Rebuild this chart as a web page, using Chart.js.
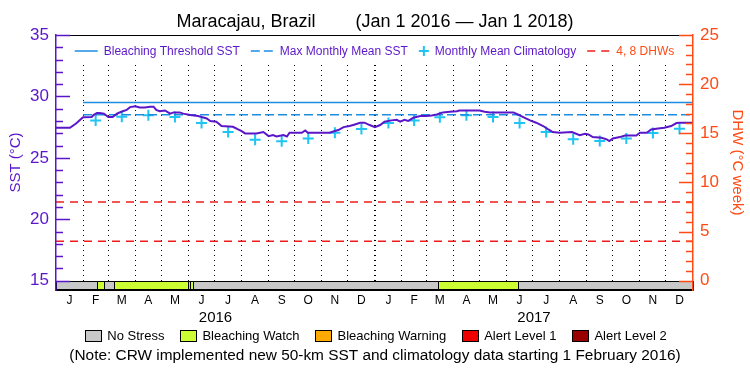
<!DOCTYPE html>
<html>
<head>
<meta charset="utf-8">
<script src="https://cdn.jsdelivr.net/npm/chart.js@4.4.1/dist/chart.umd.min.js"></script>
<style>
    html, body { margin: 0; padding: 0; background: #fff; }
    #wrap { width: 750px; height: 375px; }
</style>
</head>
<body>
<div id="wrap"><canvas id="chart"></canvas></div>
<script>
// 1. DATA (x = days since Jan 1 2016)
const monthStarts = [0, 31, 60, 91, 121, 152, 182, 213, 244, 274, 305, 335, 366, 397, 425, 456, 486, 517, 547, 578, 609, 639, 670, 700, 731];
const monthLetters = ['J', 'F', 'M', 'A', 'M', 'J', 'J', 'A', 'S', 'O', 'N', 'D'];
const yearStarts = [0, 366, 731];
const years = ['2016', '2017'];

const sstDays = [0, 16, 23, 31, 41, 43, 47, 50, 55, 60, 65, 70, 75, 81, 85, 91, 96, 102, 108, 112,
    115, 119, 125, 131, 135, 142, 146, 154, 163, 167, 173, 177, 184, 190, 203, 209, 213, 217, 230, 238,
    244, 249, 253, 261, 265, 268, 282, 286, 289, 314, 320, 324, 330, 337, 343, 349, 354, 360, 366, 372,
    377, 385, 391, 395, 400, 404, 410, 418, 425, 431, 437, 444, 452, 460, 463, 486, 492, 498, 525, 530,
    538, 544, 551, 559, 565, 570, 578, 592, 601, 607, 611, 616, 626, 632, 635, 639, 647, 653, 666, 670,
    678, 683, 691, 698, 706, 712, 716, 731];
const sstValues = [27.45, 27.45, 27.8, 28.3, 28.32, 28.48, 28.65, 28.65, 28.6, 28.32, 28.32, 28.6, 28.75, 28.9, 29.13, 29.2, 29.1, 29.1, 29.16, 29.16,
    28.9, 28.8, 28.86, 28.6, 28.7, 28.7, 28.6, 28.48, 28.4, 28.32, 28.2, 28.0, 27.94, 27.59, 27.53, 27.31, 27.18, 26.99, 26.99, 27.1,
    26.77, 26.86, 26.74, 26.86, 26.74, 27.04, 27.04, 27.23, 27.04, 27.04, 27.18, 27.26, 27.5, 27.59, 27.72, 27.86, 27.86, 27.67, 27.5, 27.67,
    27.94, 28.05, 28.1, 27.94, 28.1, 28.0, 28.26, 28.4, 28.4, 28.45, 28.53, 28.7, 28.75, 28.8, 28.86, 28.86, 28.75, 28.7, 28.7, 28.53,
    28.26, 28.05, 27.86, 27.59, 27.31, 27.1, 27.04, 27.1, 26.85, 26.96, 26.9, 26.69, 26.64, 26.5, 26.37, 26.58, 26.69, 26.82, 26.82, 27.04,
    27.04, 27.31, 27.39, 27.45, 27.59, 27.83, 27.86, 27.86];

// monthly mean climatology, one per month (none shown for Jan 2016)
const climatology = [null, 28.05, 28.35, 28.46, 28.32, 27.83, 27.1, 26.48, 26.35, 26.58, 27.05, 27.35,
    27.83, 28.05, 28.3, 28.47, 28.32, 27.83, 27.1, 26.52, 26.38, 26.58, 27.03, 27.37];

const mmm = 28.5;
const bleachingThreshold = 29.5;
const productStart = 31; // 1 February 2016
const dhwLevels = [4, 8];

const stressStarts = [0, 47, 55, 67, 151, 154, 157, 438, 530];
const stressEnds = [47, 55, 67, 151, 154, 157, 438, 530, 731];
const stressLevels = [0, 1, 0, 1, 0, 1, 0, 1, 0];
const stressLabels = ['No Stress', 'Bleaching Watch', 'Bleaching Warning', 'Alert Level 1', 'Alert Level 2'];
const stressColors = ['#c8c8c8', '#ccff33', '#ffaa00', '#ee0000', '#990000'];

const sstTicks = [15, 20, 25, 30, 35];
const dhwTicks = [0, 5, 10, 15, 20, 25];

// 2. STYLES
const FONT = '"Liberation Sans", Arial, sans-serif';
const purple = '#5a16c8';
const blue = '#1c8de0';
const cyan = '#1ec4f2';
const red = '#f01c1c';
const orange = '#ff4a14';

const midMonths = monthStarts.slice(0, -1).map((s, i) => (s + monthStarts[i + 1]) / 2);
const midYears = years.map((y, i) => (yearStarts[i] + yearStarts[i + 1]) / 2);

// 3. PLUGINS
const topLegend = {
    id: 'topLegend',
    beforeDatasetsDraw(chart) {
        const { ctx, chartArea } = chart;
        const items = chart.data.datasets.filter(d => d.legendText);
        ctx.save();
        ctx.fillStyle = '#fff';
        ctx.fillRect(chartArea.left + 1, chartArea.top + 1, chartArea.width - 2, 26);
        ctx.font = '12px ' + FONT;
        ctx.textBaseline = 'middle';
        const symW = it => it.showLine === false ? 10 : 23;
        let total = 0;
        items.forEach((it, i) => { total += symW(it) + 6 + ctx.measureText(it.legendText).width + (i ? 11 : 0); });
        let x = (chartArea.left + chartArea.right) / 2 - total / 2;
        const y = chartArea.top + 16;
        items.forEach(it => {
            const w = symW(it);
            ctx.strokeStyle = it.borderColor === 'transparent' ? it.pointBorderColor : it.borderColor;
            ctx.lineWidth = it.showLine === false ? 2 : 1.5;
            ctx.setLineDash(it.borderDash || []);
            ctx.beginPath();
            if (it.showLine === false) {
                ctx.moveTo(x, y); ctx.lineTo(x + w, y);
                ctx.moveTo(x + w / 2, y - 5); ctx.lineTo(x + w / 2, y + 5);
            } else {
                ctx.moveTo(x, y); ctx.lineTo(x + w, y);
            }
            ctx.stroke();
            ctx.setLineDash([]);
            x += w + 6;
            ctx.fillStyle = it.legendColor;
            ctx.fillText(it.legendText, x, y + 1);
            x += ctx.measureText(it.legendText).width + 11;
        });
        ctx.restore();
    }
};

const stressBar = {
    id: 'stressBar',
    beforeDatasetsDraw(chart) {
        const { ctx, chartArea, scales } = chart;
        const top = Math.round(scales.y.getPixelForValue(15));
        const bottom = Math.round(chartArea.bottom);
        ctx.save();
        ctx.lineWidth = 1;
        ctx.strokeStyle = '#000';
        stressStarts.forEach((s, i) => {
            const x0 = Math.round(scales.x.getPixelForValue(s));
            const x1 = Math.round(scales.x.getPixelForValue(stressEnds[i]));
            ctx.fillStyle = stressColors[stressLevels[i]];
            ctx.fillRect(x0, top, x1 - x0, bottom - top);
            ctx.strokeRect(x0 + 0.5, top + 0.5, x1 - x0, bottom - top - 1);
        });
        ctx.restore();
    }
};

const frameAndTicks = {
    id: 'frameAndTicks',
    afterDraw(chart) {
        const { ctx, chartArea, scales } = chart;
        ctx.save();
        ctx.lineWidth = 1;
        ctx.strokeStyle = '#000';
        ctx.beginPath();
        ctx.moveTo(chartArea.left, Math.round(chartArea.top) + 0.5);
        ctx.lineTo(chartArea.right, Math.round(chartArea.top) + 0.5);
        ctx.stroke();

        // inner tick marks, left (SST) and right (DHW)
        ctx.lineWidth = 1.5;
        ctx.strokeStyle = purple;
        for (let v = 15; v <= 35; v++) {
            const y = Math.round(scales.y.getPixelForValue(v)) + 0.5;
            ctx.beginPath();
            ctx.moveTo(chartArea.left, y);
            ctx.lineTo(chartArea.left + (v % 5 === 0 ? 14 : 7), y);
            ctx.stroke();
        }
        ctx.strokeStyle = orange;
        for (let v = 0; v <= 25; v++) {
            const y = Math.round(scales.y2.getPixelForValue(v)) + 0.5;
            ctx.beginPath();
            ctx.moveTo(chartArea.right, y);
            ctx.lineTo(chartArea.right - (v % 5 === 0 ? 14 : 7), y);
            ctx.stroke();
        }

        // stress legend
        ctx.font = '13px ' + FONT;
        ctx.textBaseline = 'middle';
        let total = 0;
        stressLabels.forEach((l, i) => { total += 16 + 6 + ctx.measureText(l).width + (i ? 16 : 0); });
        let x = 376 - total / 2;
        const yc = 335;
        ctx.lineWidth = 1;
        ctx.strokeStyle = '#000';
        stressLabels.forEach((l, i) => {
            ctx.fillStyle = stressColors[i];
            ctx.fillRect(Math.round(x), yc - 5, 16, 11);
            ctx.strokeRect(Math.round(x) + 0.5, yc - 5 + 0.5, 16, 11);
            x += 22;
            ctx.fillStyle = '#000';
            ctx.fillText(l, x, yc + 1);
            x += ctx.measureText(l).width + 16;
        });
        ctx.restore();
    }
};

// 4. CHART
new Chart(document.getElementById('chart'), {
    type: 'line',
    data: {
        datasets: [
            {
                label: 'SST',
                data: sstDays.map((d, i) => ({ x: d, y: sstValues[i] })),
                borderColor: purple, borderWidth: 2, pointRadius: 0,
                xAxisID: 'x', yAxisID: 'y'
            },
            {
                label: 'Bleaching Threshold SST', legendText: 'Bleaching Threshold SST', legendColor: purple,
                data: [{ x: productStart, y: bleachingThreshold }, { x: 731, y: bleachingThreshold }],
                borderColor: blue, borderWidth: 1.5, pointRadius: 0,
                xAxisID: 'x', yAxisID: 'y'
            },
            {
                label: 'Max Monthly Mean SST', legendText: 'Max Monthly Mean SST', legendColor: purple,
                data: [{ x: productStart, y: mmm }, { x: 731, y: mmm }],
                borderColor: blue, borderWidth: 1.5, borderDash: [9, 4], pointRadius: 0,
                xAxisID: 'x', yAxisID: 'y'
            },
            {
                label: 'Monthly Mean Climatology', legendText: 'Monthly Mean Climatology', legendColor: purple,
                data: midMonths.map((m, i) => ({ x: m, y: climatology[i] })).filter(p => p.y !== null),
                showLine: false, borderColor: 'transparent',
                pointStyle: 'cross', pointRadius: 5.5, pointBorderWidth: 2, pointBorderColor: cyan,
                xAxisID: 'x', yAxisID: 'y'
            },
            {
                label: '4 DHW', legendText: '4, 8 DHWs', legendColor: orange,
                data: [{ x: 0, y: dhwLevels[0] }, { x: 731, y: dhwLevels[0] }],
                borderColor: red, borderWidth: 1.5, borderDash: [8, 6], pointRadius: 0,
                xAxisID: 'x', yAxisID: 'y2'
            },
            {
                label: '8 DHW',
                data: [{ x: 0, y: dhwLevels[1] }, { x: 731, y: dhwLevels[1] }],
                borderColor: red, borderWidth: 1.5, borderDash: [8, 6], pointRadius: 0,
                xAxisID: 'x', yAxisID: 'y2'
            }
        ]
    },
    options: {
        responsive: true,
        maintainAspectRatio: false,
        devicePixelRatio: 1,
        animation: false,
        layout: { padding: 0 },
        plugins: {
            legend: { display: false },
            tooltip: { enabled: false },
            title: {
                display: true,
                text: 'Maracajau, Brazil        (Jan 1 2016 \u2014 Jan 1 2018)',
                color: '#000',
                font: { family: FONT, size: 18, weight: 'normal' },
                padding: { top: 11, bottom: 2.4 }
            },
            subtitle: {
                display: true,
                position: 'bottom',
                text: '(Note: CRW implemented new 50-km SST and climatology data starting 1 February 2016)',
                color: '#000',
                font: { family: FONT, size: 15.4, weight: 'normal' },
                padding: { top: 1, bottom: 10.5 }
            }
        },
        scales: {
            x: {
                type: 'linear', position: 'bottom', weight: 1,
                min: 0, max: 731,
                afterBuildTicks: s => { s.ticks = monthStarts.slice(1, -1).map(v => ({ value: v })); },
                afterFit: s => { s.height = 0; },
                ticks: { display: false },
                grid: {
                    display: true, drawTicks: false, color: '#000',
                    lineWidth: c => (c.tick && yearStarts.includes(c.tick.value)) ? 2 : 1
                },
                border: { display: true, color: '#000', width: 1, dash: [1, 4] }
            },
            xm: {
                type: 'linear', position: 'bottom', weight: 2,
                min: 0, max: 731,
                afterBuildTicks: s => { s.ticks = midMonths.map(v => ({ value: v })); },
                afterFit: s => { s.height = 19; },
                ticks: {
                    autoSkip: false, maxRotation: 0, padding: 3, color: '#000',
                    font: { family: FONT, size: 12 },
                    callback: (v, i) => monthLetters[i % 12]
                },
                grid: { display: false, drawTicks: false },
                border: { display: false }
            },
            xyr: {
                type: 'linear', position: 'bottom', weight: 3,
                min: 0, max: 731,
                afterBuildTicks: s => { s.ticks = midYears.map(v => ({ value: v })); },
                afterFit: s => { s.height = 36; },
                ticks: {
                    autoSkip: false, maxRotation: 0, padding: 0, color: '#000',
                    font: { family: FONT, size: 15 },
                    callback: (v, i) => years[i]
                },
                grid: { display: false, drawTicks: false },
                border: { display: false }
            },
            y: {
                type: 'linear', position: 'left',
                min: 14.24, max: 35,
                afterBuildTicks: s => { s.ticks = sstTicks.map(v => ({ value: v })); },
                afterFit: s => { s.width = 56; },
                ticks: { color: purple, padding: 7, font: { family: FONT, size: 17 } },
                grid: { display: false, drawTicks: false },
                border: { display: true, color: purple, width: 1.5, z: 1 },
                title: {
                    display: true, text: 'SST (\u00b0C)', color: purple,
                    font: { family: FONT, size: 15 }, padding: { top: 7, bottom: 0 }
                }
            },
            y2: {
                type: 'linear', position: 'right',
                min: -0.95, max: 25,
                afterBuildTicks: s => { s.ticks = dhwTicks.map(v => ({ value: v })); },
                afterFit: s => { s.width = 57; },
                ticks: { color: orange, padding: 7, font: { family: FONT, size: 17 } },
                grid: { display: false, drawTicks: false },
                border: { display: true, color: orange, width: 1.5, z: 1 },
                title: {
                    display: true, text: 'DHW (\u00b0C week)', color: orange,
                    font: { family: FONT, size: 15 }, padding: { top: 4, bottom: 2 }
                }
            }
        }
    },
    plugins: [stressBar, topLegend, frameAndTicks]
});
</script>
</body>
</html>
